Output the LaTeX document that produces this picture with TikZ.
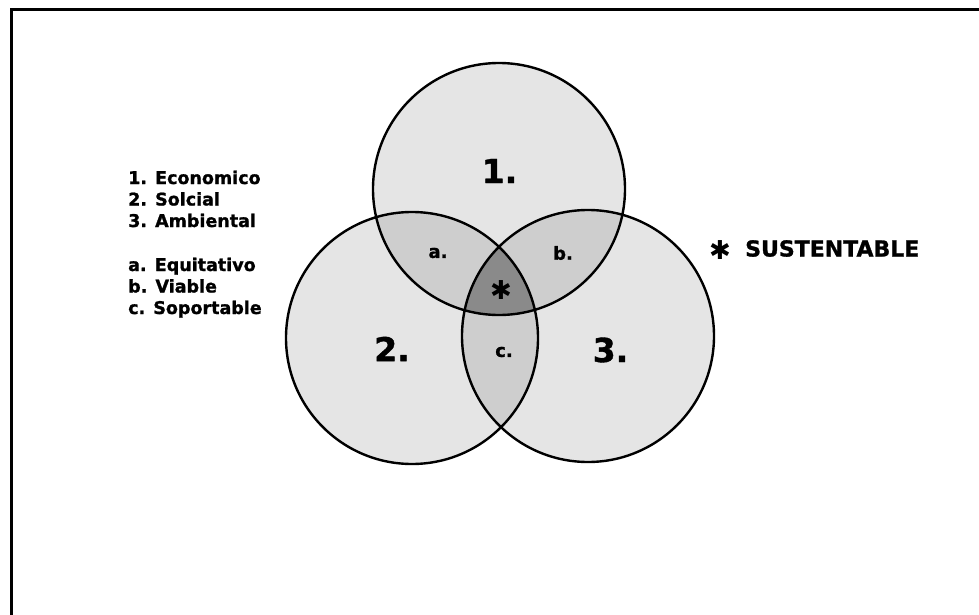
\documentclass[tikz,border=0pt]{standalone}
\usepackage{fontspec}
\setmainfont{DejaVu Sans}[BoldFeatures={FakeBold=1.2}]
\usetikzlibrary{positioning}
\definecolor{setfill}{RGB}{229,229,229}
\definecolor{pairfill}{RGB}{206,206,206}
\definecolor{corefill}{RGB}{138,138,138}

\begin{document}
\begin{tikzpicture}[x=1pt,y=-1pt,
  ring/.style={draw,line width=2.4pt},
  legend/.style={anchor=base west,inner sep=0pt,font=\fontsize{17.5}{21}\selectfont\bfseries},
  bignum/.style={font=\fontsize{33}{36}\selectfont\bfseries},
  small/.style={font=\fontsize{18}{20}\selectfont\bfseries},
  star/.style={inner sep=0pt,font=\fontsize{26}{28}\selectfont}]
\useasboundingbox (0,0) rectangle (979,615);
\draw[line width=2.2pt] (11.5,615) -- (11.5,9.5) -- (979,9.5);

\coordinate (c1) at (499,189);
\coordinate (c2) at (412,338);
\coordinate (c3) at (588,336);
\def\rad{126pt}

% the three sets
\fill[setfill] (c1) circle (\rad) (c2) circle (\rad) (c3) circle (\rad);
\begin{scope}
  \clip (c1) circle (\rad);
  \fill[pairfill] (c2) circle (\rad) (c3) circle (\rad);
\end{scope}
\begin{scope}
  \clip (c2) circle (\rad);
  \fill[pairfill] (c3) circle (\rad);
\end{scope}
\begin{scope}
  \clip (c1) circle (\rad);
  \clip (c2) circle (\rad);
  \fill[corefill] (c3) circle (\rad);
\end{scope}
\draw[ring] (c1) circle (\rad) (c2) circle (\rad) (c3) circle (\rad);

\node[bignum] (n1) at (499.5,171) {1.};
\node[bignum] (n2) at (392,349) {2.};
\node[bignum] (n3) at (610.5,350) {3.};
\node[small] (na) at (438,253) {a.};
\node[small] (nb) at (563,253) {b.};
\node[small] (nc) at (504,352) {c.};
\node[star] (core) at (501,290) {✱};

% key
\node[legend] (k1) at (128,184) {1. Economico};
\node[legend] (k2) at (128,205.5) {2. Solcial};
\node[legend] (k3) at (128,227) {3. Ambiental};
\node[legend] (ka) at (128,271) {a. Equitativo};
\node[legend] (kb) at (128,292.5) {b. Viable};
\node[legend] (kc) at (128,314) {c. Soportable};

\node[star] (mark) at (720,250) {✱};
\node[anchor=west,inner sep=0pt,font=\fontsize{22}{24}\selectfont\bfseries] (sus) at (745,248.5) {SUSTENTABLE};
\end{tikzpicture}
\end{document}
